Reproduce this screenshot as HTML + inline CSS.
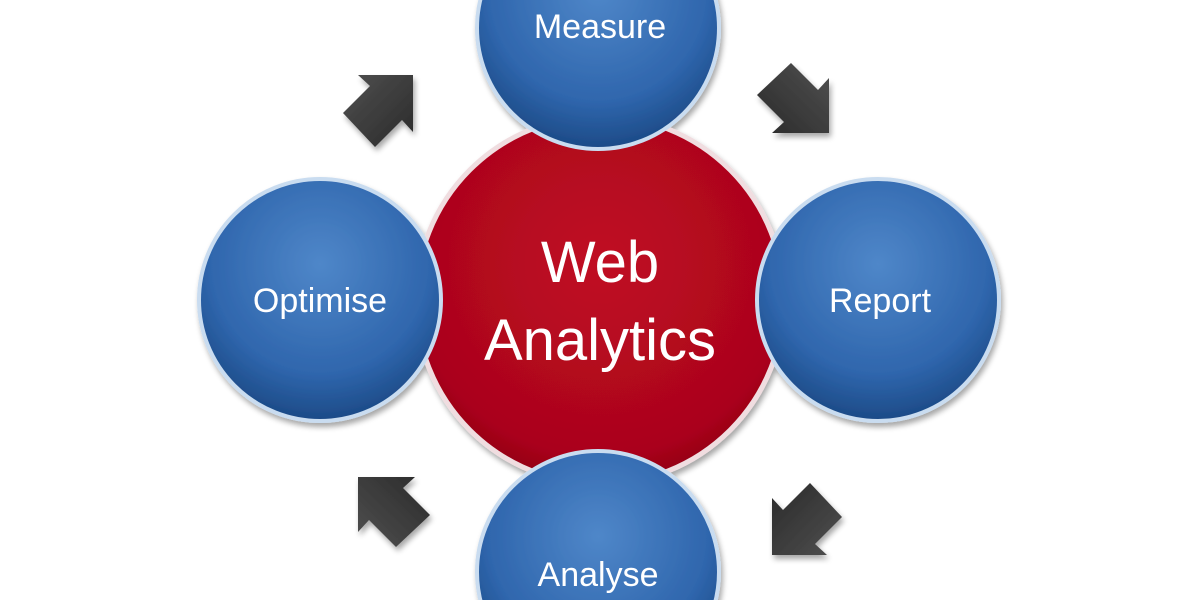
<!DOCTYPE html>
<html><head><style>html,body{margin:0;background:#fff;overflow:hidden;width:1200px;height:600px}svg{display:block}</style></head>
<body>
<svg width="1200" height="600" viewBox="0 0 1200 600" xmlns="http://www.w3.org/2000/svg">
<defs>
<radialGradient id="b" cx="50%" cy="35%" r="65%">
<stop offset="0" stop-color="#4f87c9"/><stop offset="0.7" stop-color="#2f66ad"/><stop offset="1" stop-color="#1c4a86"/></radialGradient>
<radialGradient id="r" cx="50%" cy="40%" r="65%">
<stop offset="0" stop-color="#c00a24"/><stop offset="0.8" stop-color="#aa051b"/><stop offset="1" stop-color="#850012"/></radialGradient>
<linearGradient id="a" x1="0" y1="0" x2="1" y2="1"><stop offset="0" stop-color="#505050"/><stop offset="1" stop-color="#2a2a2a"/></linearGradient>
<filter id="s" x="-20%" y="-20%" width="140%" height="140%"><feGaussianBlur in="SourceAlpha" stdDeviation="3"/><feOffset dx="2" dy="4"/><feComponentTransfer><feFuncA type="linear" slope="0.35"/></feComponentTransfer><feMerge><feMergeNode/><feMergeNode in="SourceGraphic"/></feMerge></filter>
</defs>
<g filter="url(#s)">
<circle cx="600" cy="300" r="184" fill="url(#r)" stroke="#f0dde0" stroke-width="5"/>
<circle cx="598" cy="28" r="121" fill="url(#b)" stroke="#c9dcf0" stroke-width="4"/>
<circle cx="878" cy="300" r="121" fill="url(#b)" stroke="#c9dcf0" stroke-width="4"/>
<circle cx="320" cy="300" r="121" fill="url(#b)" stroke="#c9dcf0" stroke-width="4"/>
<circle cx="598" cy="572" r="121" fill="url(#b)" stroke="#c9dcf0" stroke-width="4"/>
</g>
<g fill="url(#a)" filter="url(#s)">
<polygon points="358,75 413,75 413,132 402,120 375,147 343,113 370,86"/>
<polygon transform="translate(414,-10) rotate(90 380 110)" points="358,75 413,75 413,132 402,120 375,147 343,113 370,86"/>
<polygon transform="translate(425,410) rotate(180 380 110)" points="358,75 413,75 413,132 402,120 375,147 343,113 370,86"/>
<polygon transform="translate(13,400) rotate(-90 380 110)" points="358,75 413,75 413,132 402,120 375,147 343,113 370,86"/>
</g>
<g fill="#fff" font-family="Liberation Sans, sans-serif" text-anchor="middle">
<text x="600" y="38" font-size="34">Measure</text>
<text x="880" y="312" font-size="34">Report</text>
<text x="320" y="312" font-size="34">Optimise</text>
<text x="598" y="586" font-size="34">Analyse</text>
<text x="600" y="282" font-size="58">Web</text>
<text x="600" y="360" font-size="58">Analytics</text>
</g>
</svg>
</body></html>
